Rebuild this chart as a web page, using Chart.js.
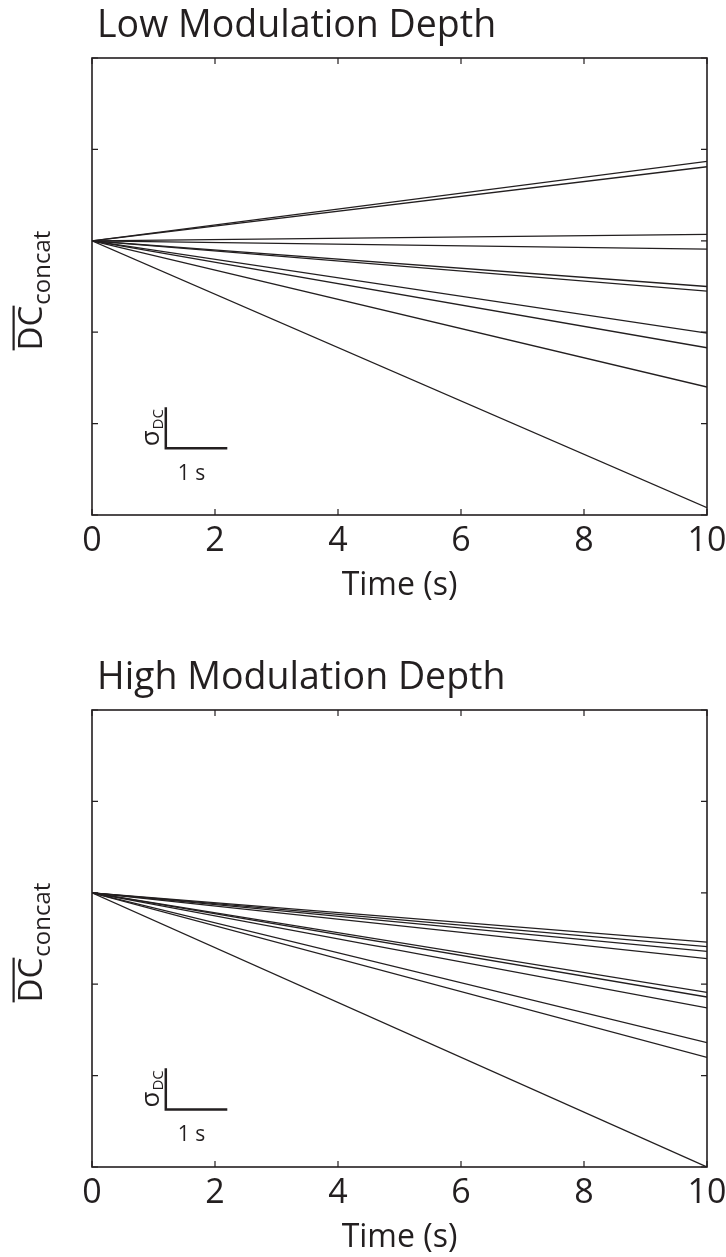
<!DOCTYPE html>
<html>
<head>
<meta charset="utf-8">
<script src="https://cdn.jsdelivr.net/npm/chart.js@4.4.0/dist/chart.umd.min.js"></script>
<style>
  html, body { margin: 0; padding: 0; background: #fff; overflow: hidden; }
  canvas { display: block; }
</style>
</head>
<body>
<canvas id="lowChart" width="726" height="652"></canvas>
<canvas id="highChart" width="726" height="605"></canvas>
<script>
// every line starts at (0, 0) and runs straight to its end value at t = 10 s
const lineTimes = [0, 10];
const startValue = 0;
// end values (in units of sigma_DC)
const lowDepthEnds = [0.87, 0.81, 0.07, -0.09, -0.50, -0.55, -1.01, -1.17, -1.60, -2.92];
const highDepthEnds = [-0.54, -0.59, -0.64, -0.72, -1.09, -1.14, -1.26, -1.64, -1.80, -3.00];
const xTickStep = 2;
const yTickStep = 1;

const INK = '#231f20';
const FONT = '"Open Sans", sans-serif';

// text rotated to read bottom -> top, with a subscript (and optional overline on the main part)
function drawRotatedSub(ctx, bx, cy, main, sub, mainSize, subSize, subDrop, overline) {
    ctx.save();
    ctx.font = mainSize + 'px ' + FONT;
    const wMain = ctx.measureText(main).width;
    ctx.font = subSize + 'px ' + FONT;
    const wSub = ctx.measureText(sub).width;
    const total = wMain + 1 + wSub;
    ctx.translate(bx, cy);
    ctx.rotate(-Math.PI / 2);
    ctx.fillStyle = INK;
    ctx.strokeStyle = INK;
    ctx.textAlign = 'left';
    ctx.textBaseline = 'alphabetic';
    ctx.font = mainSize + 'px ' + FONT;
    ctx.fillText(main, -total / 2, 0);
    if (overline) {
        ctx.lineWidth = 2.2;
        ctx.beginPath();
        ctx.moveTo(-total / 2, -mainSize * 0.86);
        ctx.lineTo(-total / 2 + wMain, -mainSize * 0.86);
        ctx.stroke();
    }
    ctx.font = subSize + 'px ' + FONT;
    ctx.fillText(sub, -total / 2 + wMain + 1, subDrop);
    ctx.restore();
}

// box, inward ticks, title, y label and the sigma / 1 s scale bar
const panelDecor = {
    id: 'panelDecor',
    afterDatasetsDraw(chart, args, opts) {
        const ctx = chart.ctx;
        const a = chart.chartArea;
        const x = chart.scales.x, y = chart.scales.y;
        ctx.save();
        ctx.strokeStyle = INK;
        ctx.fillStyle = INK;
        ctx.lineWidth = 1.6;
        ctx.strokeRect(a.left, a.top, a.right - a.left, a.bottom - a.top);

        const tl = 6;
        ctx.lineWidth = 1.2;
        ctx.beginPath();
        x.ticks.forEach(t => {
            const px = x.getPixelForValue(t.value);
            ctx.moveTo(px, a.bottom); ctx.lineTo(px, a.bottom - tl);
            ctx.moveTo(px, a.top); ctx.lineTo(px, a.top + tl);
        });
        y.ticks.forEach(t => {
            const py = y.getPixelForValue(t.value);
            ctx.moveTo(a.left, py); ctx.lineTo(a.left + tl, py);
            ctx.moveTo(a.right, py); ctx.lineTo(a.right - tl, py);
        });
        ctx.stroke();

        // scale bar
        const sb = opts.scaleBar;
        const x0 = x.getPixelForValue(sb.x0), x1 = x.getPixelForValue(sb.x0 + sb.dx);
        const y0 = y.getPixelForValue(sb.y0), y1 = y.getPixelForValue(sb.y0 + sb.dy);
        ctx.lineWidth = 2.5;
        ctx.beginPath();
        ctx.moveTo(x0, y1); ctx.lineTo(x0, y0); ctx.lineTo(x1, y0);
        ctx.stroke();
        ctx.font = '21px ' + FONT;
        ctx.textAlign = 'center';
        ctx.textBaseline = 'alphabetic';
        ctx.fillText('1 s', (x0 + x1) / 2 - 5, y0 + 32);
        drawRotatedSub(ctx, x0 - 7, (y0 + y1) / 2, 'σ', 'DC', 26, 15, 4, false);

        // title
        ctx.font = '37.5px ' + FONT;
        ctx.textAlign = 'left';
        ctx.fillText(opts.title, a.left + 5, a.top - 21);

        // y label
        drawRotatedSub(ctx, 42, (a.top + a.bottom) / 2 + 4, 'DC', 'concat', 33, 24, 8, true);
        ctx.restore();
    }
};

function makeChart(id, ends, title, bottomPad, scaleBarY) {
    return new Chart(document.getElementById(id), {
        type: 'line',
        data: {
            datasets: ends.map(v => ({
                data: [{x: lineTimes[0], y: startValue}, {x: lineTimes[1], y: v}],
                borderColor: INK,
                borderWidth: 1.3,
                pointRadius: 0,
                fill: false,
                tension: 0
            }))
        },
        options: {
            responsive: false,
            animation: false,
            devicePixelRatio: 1,
            layout: { padding: { top: 58, right: 19, bottom: bottomPad, left: 0 } },
            plugins: {
                legend: { display: false },
                tooltip: { enabled: false },
                panelDecor: { title: title, scaleBar: { x0: 1.2, dx: 1, y0: scaleBarY, dy: 0.45 } }
            },
            scales: {
                x: {
                    type: 'linear', min: 0, max: 10,
                    ticks: { stepSize: xTickStep, font: { family: FONT, size: 34 }, color: INK, padding: 6, maxRotation: 0 },
                    grid: { display: false, drawTicks: false },
                    border: { display: false },
                    title: { display: true, text: 'Time (s)', font: { family: FONT, size: 32 }, color: INK, padding: 0 },
                    afterFit: s => { s.height = 90; s.paddingLeft = 0; s.paddingRight = 0; }
                },
                y: {
                    type: 'linear', min: -3, max: 2,
                    ticks: { stepSize: yTickStep, display: false },
                    grid: { display: false, drawTicks: false },
                    border: { display: false },
                    afterFit: s => { s.width = 92; }
                }
            }
        },
        plugins: [panelDecor]
    });
}

makeChart('lowChart', lowDepthEnds, 'Low Modulation Depth', 47, -2.27);
makeChart('highChart', highDepthEnds, 'High Modulation Depth', 0, -2.37);
</script>
</body>
</html>
